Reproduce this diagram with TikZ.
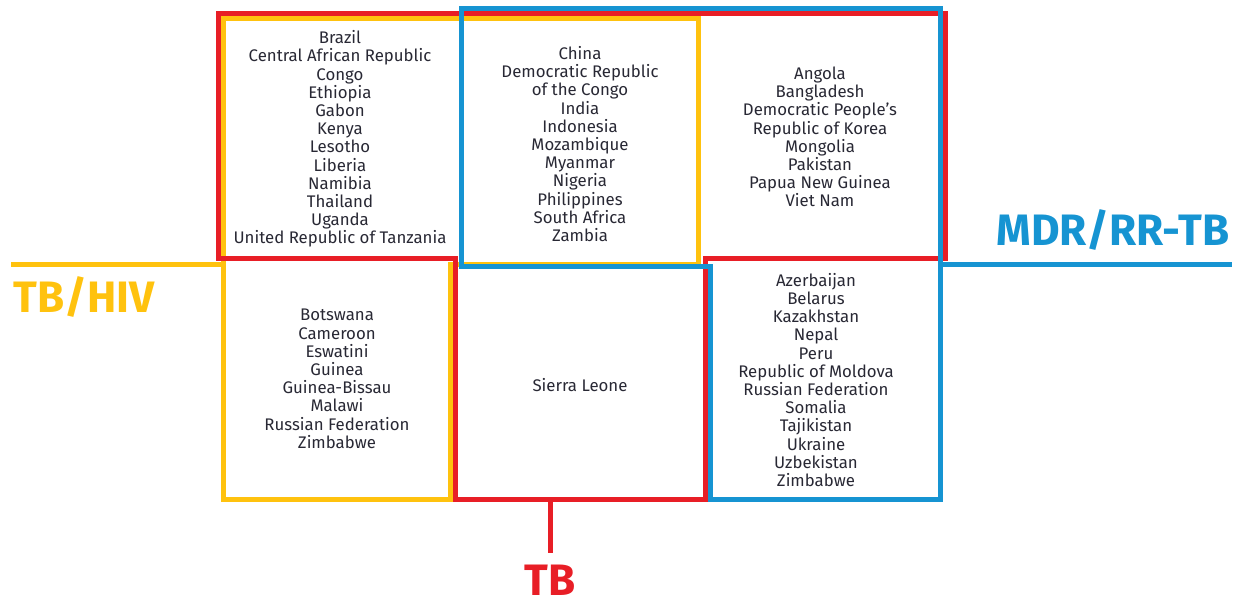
\documentclass[tikz,border=0pt]{standalone}
\usepackage{fontspec}
\setmainfont{Fira Sans}
\definecolor{tbred}{RGB}{232,30,38}
\definecolor{hivyellow}{RGB}{255,194,14}
\definecolor{mdrblue}{RGB}{22,148,210}
\definecolor{listgray}{RGB}{40,40,52}

\begin{document}
\begin{tikzpicture}[x=1pt,y=-1pt,line width=5pt,
  countries/.style={align=center,inner sep=0pt,text=listgray,
    font=\fontsize{16.8}{18.2}\selectfont},
  burden/.style={inner sep=0pt,text depth=0pt,font=\fontsize{44}{44}\selectfont\bfseries}]

\useasboundingbox (0,0) rectangle (1243,602);

% define the country lists
  \node[countries] (tbhiv)  at (340,139)
{Brazil\\Central African Republic\\Congo\\Ethiopia\\Gabon\\Kenya\\Lesotho\\Liberia\\Namibia\\Thailand\\Uganda\\United Republic of Tanzania};
  \node[countries] (allthree) at (580,144)
{China\\Democratic Republic\\of the Congo\\India\\Indonesia\\Mozambique\\Myanmar\\Nigeria\\Philippines\\South Africa\\Zambia};
  \node[countries] (tbmdr)  at (820,137)
{Angola\\Bangladesh\\Democratic People’s\\Republic of Korea\\Mongolia\\Pakistan\\Papua New Guinea\\Viet Nam};
  \node[countries] (hivonly) at (337,379)
{Botswana\\Cameroon\\Eswatini\\Guinea\\Guinea-Bissau\\Malawi\\Russian Federation\\Zimbabwe};
  \node[countries] (tbonly) at (580,385)
{Sierra Leone};
  \node[countries] (mdronly) at (816,380)
{Azerbaijan\\Belarus\\Kazakhstan\\Nepal\\Peru\\Republic of Moldova\\Russian Federation\\Somalia\\Tajikistan\\Ukraine\\Uzbekistan\\Zimbabwe};

% define the outlines
  \draw[hivyellow] (223,19) -- (698,19) -- (698,264) -- (450,264)
        -- (450,499) -- (223,499) -- cycle;
  \draw[tbred] (218,14) -- (945,14) -- (945,258) -- (705,258) -- (705,499)
        -- (455,499) -- (455,258) -- (218,258) -- cycle;
  \draw[mdrblue] (461,9) -- (940,9) -- (940,499) -- (710,499)
        -- (710,266) -- (461,266) -- cycle;

% define the labels
  \node[burden, text=hivyellow, anchor=base west] (hiv) at (11,312) {TB/HIV};
  \node[burden, text=tbred, anchor=base]          (tb)  at (550,595) {TB};
  \node[burden, text=mdrblue, anchor=base east]   (mdr) at (1232,245) {MDR/RR-TB};

  \coordinate (hivjoin) at (223,264);
  \coordinate (tbjoin)  at (550,499);
  \coordinate (tbstem)  at (550,553);
  \coordinate (mdrjoin) at (940,264);

  \draw[hivyellow] (hivjoin) -- (hivjoin -| hiv.west);
  \draw[tbred]     (tbjoin) -- (tbstem);
  \draw[mdrblue]   (mdrjoin) -- (mdrjoin -| mdr.east);

\end{tikzpicture}
\end{document}
